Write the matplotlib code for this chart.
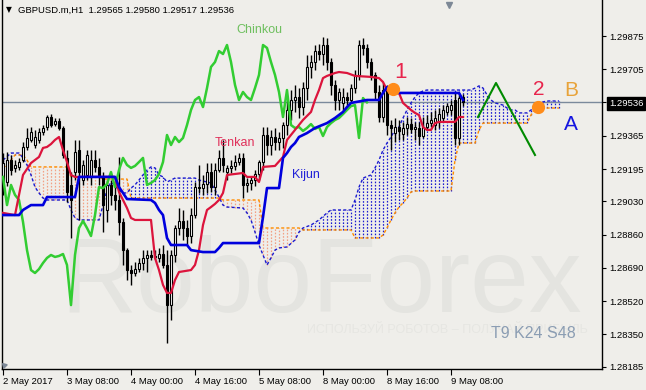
import numpy as np
import matplotlib.pyplot as plt

plt.rcParams['font.family'] = ['Liberation Sans', 'DejaVu Sans']

# GBPUSD H1 candles, prices in points (1e-5)
opens = [129129, 129129, 129241, 129201, 129206, 129241, 129308, 129344, 129318, 129344,
         129384, 129410, 129461, 129425, 129441, 129405, 129252, 129114, 129180, 129292,
         129139, 129165, 129155, 129241, 129206, 129155, 128986, 129114, 129063, 129037,
         128925, 128781, 128679, 128664, 128684, 128715, 128741, 128756, 128746, 128741,
         128761, 128705, 128500, 128756, 128894, 128930, 128894, 128853, 128960, 129103,
         129098, 129119, 129180, 129103, 129190, 129252, 129180, 129201, 129211, 129231,
         129252, 129114, 129124, 129139, 129170, 129231, 129369, 129318, 129359, 129333,
         129354, 129420, 129497, 129548, 129563, 129512, 129609, 129717, 129742, 129798,
         129783, 129829, 129742, 129625, 129548, 129533, 129563, 129548, 129609, 129676,
         129829, 129814, 129742, 129676, 129589, 129461, 129599, 129420, 129379, 129410,
         129374, 129405, 129425, 129400, 129405, 129364, 129410, 129430, 129420, 129436,
         129456, 129487, 129497, 129548, 129354, 129565]
closes = [129226, 129241, 129190, 129216, 129231, 129308, 129354, 129384, 129359, 129384,
          129405, 129461, 129420, 129441, 129405, 129267, 129078, 129037, 129282, 129180,
          129216, 129267, 129241, 129206, 129155, 129011, 129114, 129063, 129037, 128925,
          128781, 128679, 128664, 128684, 128715, 128741, 128756, 128746, 128751, 128761,
          128705, 128500, 128756, 128894, 128930, 128894, 128853, 128960, 129103, 129098,
          129119, 129180, 129103, 129190, 129252, 129216, 129201, 129211, 129231, 129252,
          129114, 129124, 129139, 129170, 129231, 129369, 129318, 129359, 129333, 129354,
          129420, 129497, 129548, 129563, 129512, 129609, 129717, 129742, 129798, 129783,
          129829, 129742, 129625, 129548, 129589, 129563, 129548, 129609, 129676, 129829,
          129814, 129742, 129676, 129589, 129461, 129599, 129420, 129405, 129410, 129390,
          129405, 129425, 129400, 129410, 129364, 129410, 129430, 129446, 129456, 129476,
          129497, 129517, 129522, 129354, 129558, 129536]
highs = [129277, 129282, 129267, 129241, 129252, 129333, 129405, 129410, 129395, 129405,
         129420, 129471, 129476, 129456, 129456, 129415, 129292, 129180, 129344, 129344,
         129241, 129292, 129292, 129292, 129252, 129180, 129139, 129139, 129124, 129257,
         128945, 128792, 128705, 128720, 128741, 128781, 128781, 128781, 128781, 128792,
         128807, 128781, 128781, 128909, 128996, 128986, 128935, 128996, 129129, 129216,
         129165, 129226, 129226, 129226, 129292, 129344, 129216, 129241, 129267, 129277,
         129277, 129149, 129160, 129190, 129241, 129410, 129410, 129395, 129405, 129384,
         129436, 129548, 129599, 129625, 129609, 129640, 129778, 129778, 129829, 129834,
         129870, 129865, 129763, 129650, 129609, 129609, 129589, 129630, 129701, 129855,
         129865, 129834, 129763, 129691, 129625, 129635, 129625, 129446, 129456, 129446,
         129436, 129461, 129456, 129436, 129436, 129461, 129471, 129487, 129497, 129507,
         129522, 129533, 129548, 129589, 129584, 129580]
lows = [129063, 129109, 129165, 129180, 129190, 129231, 129292, 129333, 129303, 129328,
        129369, 129395, 129410, 129415, 129395, 129252, 129027, 128843, 129139, 128935,
        129114, 129139, 129114, 129180, 129114, 128873, 128925, 129011, 128986, 128858,
        128705, 128628, 128603, 128649, 128669, 128679, 128669, 128730, 128736, 128720,
        128690, 128306, 128424, 128720, 128858, 128833, 128807, 128817, 128945, 129073,
        129063, 129073, 129078, 129063, 129180, 129180, 129139, 129175, 129190, 129216,
        129047, 129078, 129088, 129109, 129139, 129190, 129267, 129267, 129292, 129292,
        129303, 129369, 129446, 129487, 129456, 129471, 129548, 129660, 129701, 129752,
        129727, 129701, 129574, 129497, 129497, 129497, 129522, 129533, 129584, 129650,
        129778, 129712, 129650, 129548, 129436, 129436, 129369, 129292, 129333, 129344,
        129344, 129369, 129379, 129344, 129318, 129354, 129395, 129410, 129395, 129405,
        129436, 129471, 129471, 129318, 129318, 129517]

# Ichimoku lines (bar index, points)
tenkan_bar = [0, 3, 5, 7, 9, 10, 11, 12, 13, 14, 15, 16, 17, 18, 28, 29, 30, 31, 32, 33,
              37, 38, 39, 40, 41, 42, 43, 44, 47, 48, 49, 50, 51, 52, 53, 54, 55, 56, 60, 61,
              63, 64, 65, 68, 70, 71, 73, 75, 77, 78, 79, 80, 81, 83, 84, 86, 88, 92, 94, 95,
              96, 97, 99, 100, 102, 103, 104, 105, 106, 107, 108, 109, 113, 114, 115]
tenkan_val = [128971, 128960, 129165, 129226, 129257, 129303, 129308, 129323, 129344, 129359,
              129292, 129231, 129165, 129155, 129155, 129078, 129037, 128996, 128945, 128935,
              128935, 128741, 128679, 128603, 128562, 128562, 128628, 128669, 128679, 128705,
              128781, 128909, 128986, 129001, 129017, 129037, 129073, 129165, 129175, 129155,
              129155, 129129, 129206, 129211, 129257, 129344, 129395, 129446, 129487, 129548,
              129599, 129660, 129671, 129686, 129691, 129686, 129671, 129666, 129660, 129640,
              129599, 129584, 129584, 129533, 129497, 129482, 129471, 129410, 129395, 129395,
              129430, 129436, 129436, 129461, 129461]
kijun_bar = [0, 4, 5, 7, 10, 11, 18, 19, 28, 29, 30, 31, 37, 38, 39, 40, 41, 42, 46, 47,
             50, 53, 54, 55, 64, 65, 66, 69, 70, 71, 72, 73, 74, 76, 78, 81, 83, 85, 86, 87,
             91, 94, 95, 96, 97, 98, 114, 115]
kijun_val = [128960, 128960, 128986, 129011, 129011, 129052, 129052, 129155, 129155, 129103,
             129073, 129042, 129037, 129022, 128986, 128960, 128843, 128807, 128807, 128781,
             128771, 128771, 128792, 128817, 128817, 128950, 129098, 129098, 129252, 129277,
             129308, 129328, 129359, 129379, 129405, 129430, 129456, 129487, 129512, 129533,
             129548, 129548, 129584, 129614, 129599, 129584, 129584, 129548]
spana_bar = [0, 1, 3, 5, 6, 7, 16, 17, 24, 25, 31, 32, 54, 55, 64, 65, 74, 75, 87, 88,
             94, 95, 96, 97, 98, 99, 100, 101, 102, 103, 112, 113, 114, 118, 119, 120, 131, 132,
             133, 139]
spana_val = [129201, 129216, 129267, 129267, 129241, 129206, 129206, 129155, 129155, 129144,
             129144, 129047, 129047, 129037, 129037, 128894, 128894, 128884, 128884, 128843,
             128843, 128858, 128894, 128935, 128971, 129001, 129022, 129047, 129078, 129083,
             129083, 129241, 129328, 129328, 129395, 129430, 129430, 129471, 129507, 129507]
spanb_bar = [0, 2, 4, 5, 6, 7, 8, 9, 10, 11, 16, 17, 18, 19, 24, 25, 26, 27, 28, 29,
             30, 31, 32, 33, 34, 35, 36, 37, 38, 39, 40, 41, 42, 43, 48, 49, 52, 53, 54, 55,
             56, 60, 61, 62, 63, 64, 65, 66, 67, 68, 69, 71, 73, 74, 75, 77, 79, 81, 82, 87,
             88, 89, 90, 92, 93, 94, 95, 96, 97, 98, 99, 100, 101, 102, 103, 104, 105, 106, 117, 118,
             119, 120, 121, 122, 123, 125, 126, 127, 128, 129, 131, 132, 133, 134, 135, 136, 139]
spanb_val = [129241, 129277, 129277, 129252, 129216, 129165, 129103, 129073, 129047, 129037,
             129037, 128986, 128945, 128935, 128935, 129011, 129088, 129129, 129109, 129088,
             129073, 129073, 129098, 129114, 129139, 129165, 129190, 129206, 129201, 129165,
             129155, 129129, 129139, 129149, 129149, 129139, 129124, 129088, 129052, 129011,
             129001, 128996, 128971, 128935, 128873, 128807, 128756, 128705, 128741, 128781,
             128792, 128797, 128833, 128873, 128894, 128909, 128935, 128971, 128986, 128986,
             129037, 129103, 129149, 129165, 129201, 129241, 129292, 129328, 129359, 129395,
             129410, 129456, 129497, 129533, 129563, 129584, 129594, 129599, 129599, 129609,
             129620, 129609, 129574, 129548, 129533, 129522, 129507, 129497, 129497, 129482,
             129482, 129497, 129512, 129528, 129538, 129543, 129543]

# forecast drawing
wave_bar = [118.75, 123.25, 133]
wave_val = [129461, 129635, 129267]
dot_bar = [97.5, 133.75]
dot_val = [129604, 129512]

price_ticks = [1.29875, 1.29705, 1.29536, 1.29365, 1.29195, 1.29030, 1.28860,
               1.28690, 1.28520, 1.28350, 1.28185]
date_ticks = [0, 16, 32, 48, 64, 80, 96, 112]
date_labels = ['2 May 2017', '3 May 08:00', '4 May 00:00', '4 May 16:00',
               '5 May 08:00', '8 May 00:00', '8 May 16:00', '9 May 08:00']
last_price = 1.29536
chinkou_shift = 24

def pts(v):
    return np.array(v) / 1e5

o, c, h, l = pts(opens), pts(closes), pts(highs), pts(lows)
bars = np.arange(len(c))

bg = '#efeeea'
fig = plt.figure(figsize=(6.46, 3.90), dpi=100, facecolor=bg)
ax = fig.add_axes([2 / 646, 21 / 390, 600 / 646, 369 / 390])
ax.set_facecolor(bg)
ax.set_xlim(-0.25, 149.75)
ax.set_ylim(1.281734, 1.30059)

# watermark
ax.text(0.532, 0.155, 'RoboForex', transform=ax.transAxes, ha='center', va='baseline',
        fontsize=76, color='#e4e4e0', zorder=0)
ax.text(0.742, 0.098, 'ИСПОЛЬЗУЙ РОБОТОВ – ПОЛУЧАЙ ПРИБЫЛЬ', transform=ax.transAxes,
        ha='center', va='baseline', fontsize=9, color='#e6e6e2', zorder=0)

# cloud
grid = np.arange(0, 140)
a = np.interp(grid, spana_bar, pts(spana_val))
b = np.interp(grid, spanb_bar, pts(spanb_val))
up = a >= b
ax.vlines(grid[up], b[up], a[up], colors='#f2a084', linestyles=(0, (1.3, 1.3)), lw=0.9, zorder=1)
ax.vlines(grid[~up], a[~up], b[~up], colors='#1a1ad0', linestyles=(0, (1.3, 1.3)), lw=0.9, zorder=1)
ax.plot(spana_bar, pts(spana_val), color='#ff8c00', ls=(0, (2.2, 1.6)), lw=1, zorder=1.5)
ax.plot(spanb_bar, pts(spanb_val), color='#1a1ad0', ls=(0, (2.2, 1.6)), lw=1, zorder=1.5)

ax.axhline(last_price, color='#7b8a9c', lw=1, zorder=1.2)

# candles
bull = c >= o
ax.vlines(bars, l, h, color='black', lw=1, zorder=2.5)
body = np.maximum(np.abs(c - o), 0.00002)
ax.bar(bars, body, bottom=np.minimum(o, c), width=0.55,
       color=np.where(bull, 'white', 'black'), edgecolor='black', linewidth=0.8, zorder=3)

# lines
ax.plot(bars[chinkou_shift:] - chinkou_shift, c[chinkou_shift:], color='#32cd32', lw=1.8, zorder=4)
ax.plot(tenkan_bar, pts(tenkan_val), color='#dc143c', lw=1.6, zorder=4)
ax.plot(kijun_bar, pts(kijun_val), color='#0000dd', lw=1.9, zorder=4)

ax.plot(wave_bar, pts(wave_val), color='#008a00', lw=1.5, zorder=5)
ax.plot(dot_bar, pts(dot_val), 'o', color='#ff8c1a', ms=8.5, zorder=5)

ax.text(64, 1.29906, 'Chinkou', color='#6fbf5f', fontsize=9, ha='center', va='center', zorder=5)
ax.text(58, 1.29328, 'Tenkan', color='#e0305a', fontsize=9, ha='center', va='center', zorder=5)
ax.text(75.75, 1.29165, 'Kijun', color='#2020d8', fontsize=9, ha='center', va='center', zorder=5)
ax.text(99.25, 1.29686, '1', color='#e8244c', fontsize=16, ha='center', va='center', zorder=5)
ax.text(134, 1.29604, '2', color='#e8244c', fontsize=15, ha='center', va='center', zorder=5)
ax.text(142, 1.29599, 'B', color='#e8a33a', fontsize=15, ha='center', va='center', zorder=5)
ax.text(142, 1.29425, 'A', color='#1515e0', fontsize=15, ha='center', va='center', zorder=5)
ax.text(0.815, 0.084, 'T9 K24 S48', transform=ax.transAxes, color='#8b9db3',
        fontsize=11.5, ha='left', va='baseline', zorder=5)

# axes styling
for side in ['left', 'right', 'bottom']:
    ax.spines[side].set_color('black')
    ax.spines[side].set_linewidth(1)
ax.spines['top'].set_visible(False)
ax.yaxis.tick_right()
ax.set_yticks(price_ticks)
ax.set_yticklabels(['%.5f' % p for p in price_ticks])
ax.tick_params(axis='y', length=3, width=0.8, labelsize=6.8, pad=2, colors='black')
ax.set_xticks(date_ticks)
ax.set_xticklabels(date_labels, ha='left')
ax.tick_params(axis='x', length=4, width=0.8, labelsize=6.8, pad=1.5, colors='black')
for t, p in zip(ax.yaxis.get_major_ticks(), price_ticks):
    if abs(p - last_price) < 1e-7:
        t.label2.set_color('white')
        t.label2.set_bbox(dict(facecolor='black', edgecolor='black', pad=1.2))

# header and small markers
fig.text(9 / 646, 1 - 10 / 390, '▼', fontsize=5.5, family='DejaVu Sans', ha='center', va='center')
fig.text(18 / 646, 1 - 10 / 390, 'GBPUSD.m,H1  1.29565 1.29580 1.29517 1.29536',
         fontsize=6.8, ha='left', va='center')
ax.plot([111.5], [1.30035], 'v', color='#7d8896', ms=5, zorder=5, clip_on=False)
ax.plot([0.3], [1.28192], marker=(3, 0, 45), color='#7d8896', ms=4, zorder=5)

fig.savefig('out.png', dpi=100, facecolor=bg)
